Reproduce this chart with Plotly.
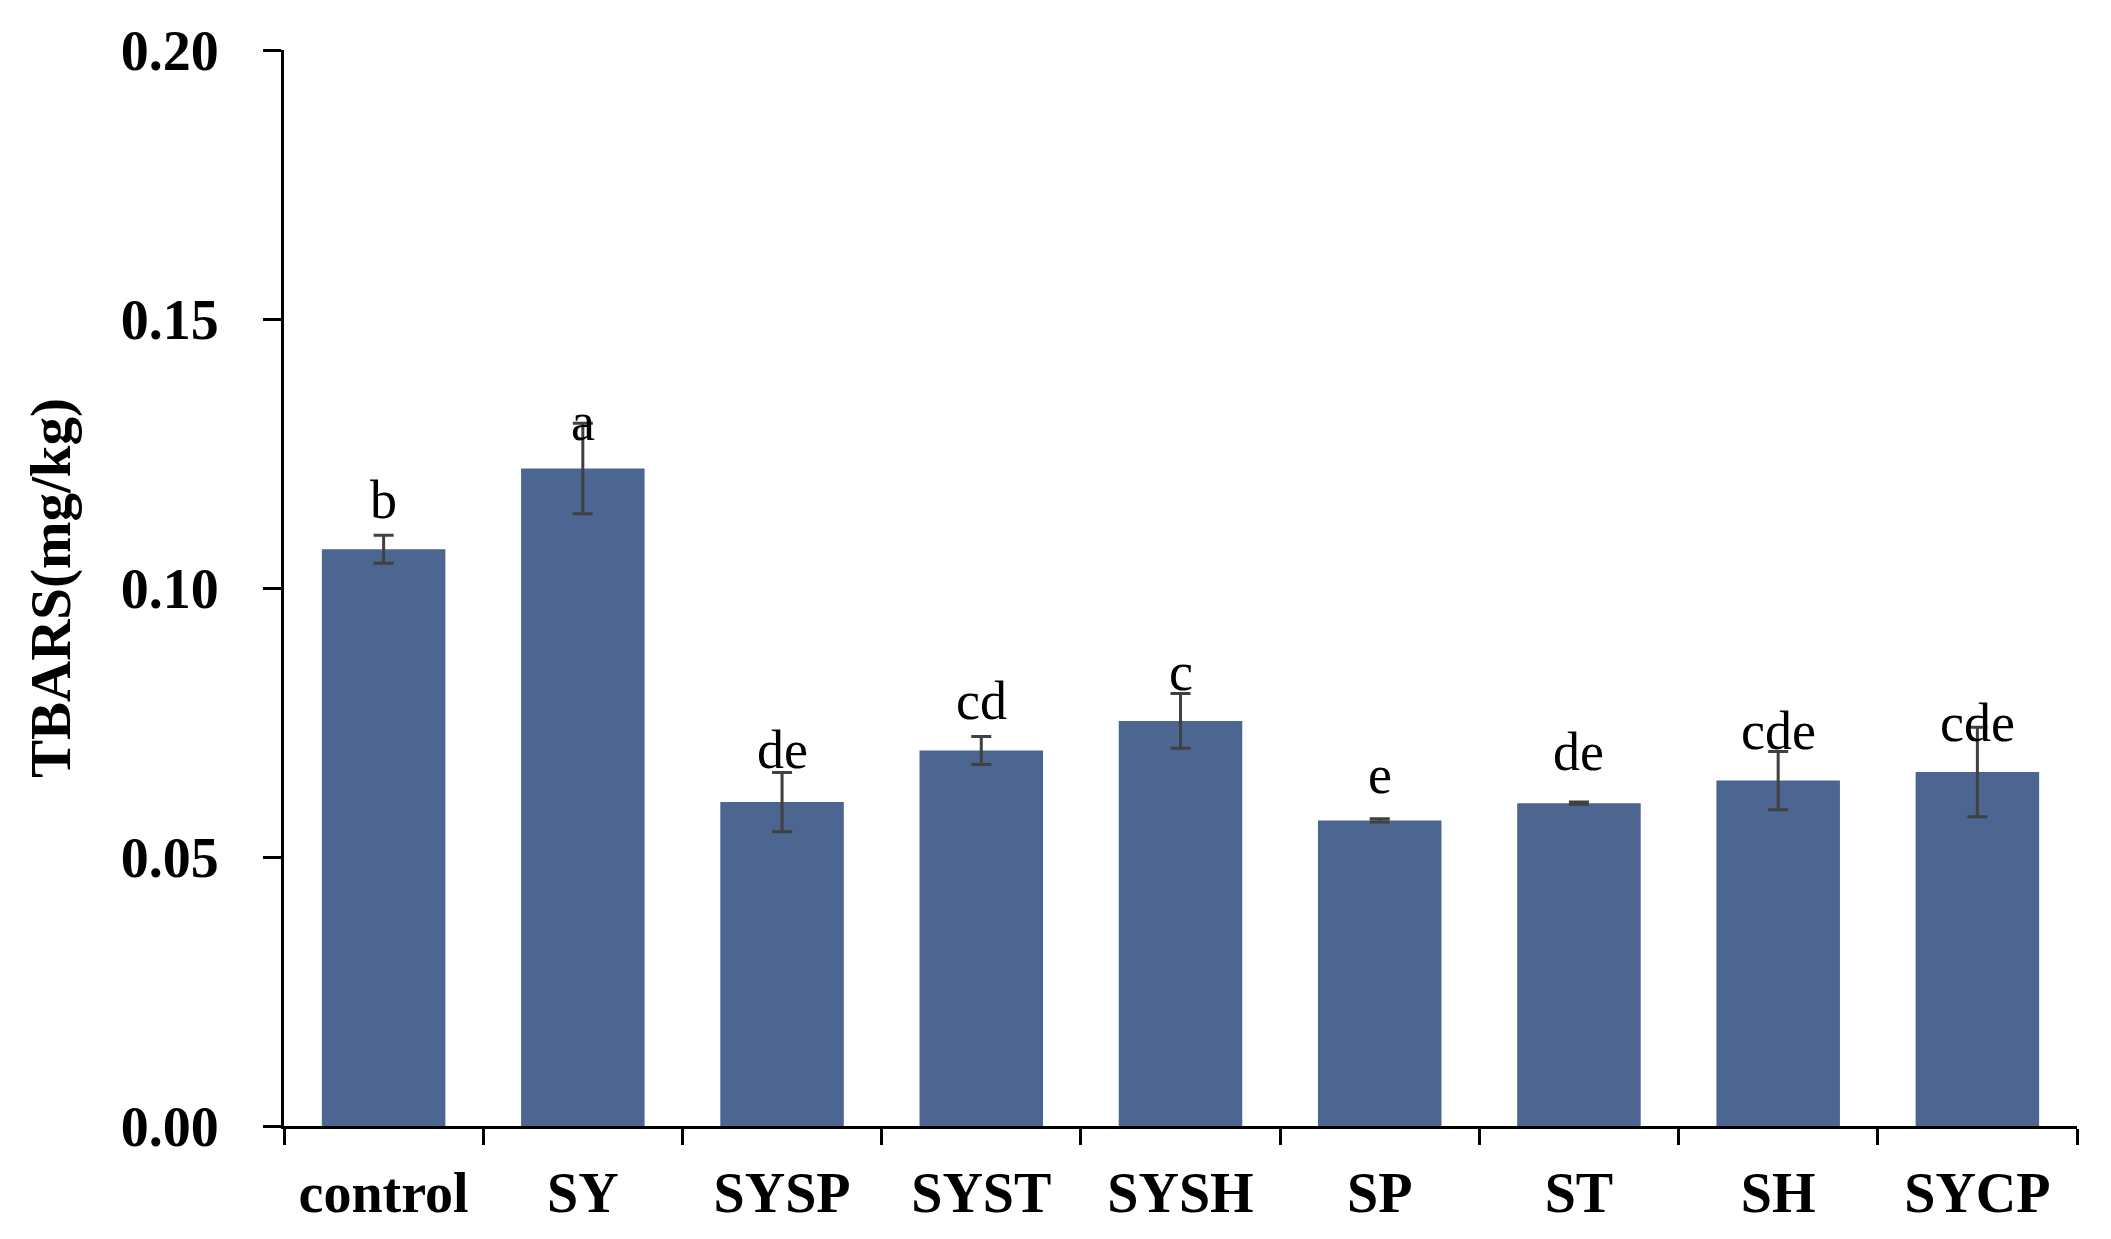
import plotly.graph_objects as go

categories = ["control", "SY", "SYSP", "SYST", "SYSH", "SP", "ST", "SH", "SYCP"]
tbars = [0.1072, 0.1222, 0.0602, 0.0698, 0.0753, 0.0568, 0.0600, 0.0642, 0.0658]
errors = [0.0026, 0.0084, 0.0055, 0.0026, 0.0051, 0.0003, 0.0002, 0.0054, 0.0083]
letters = ["b", "a", "de", "cd", "c", "e", "de", "cde", "cde"]
letter_y = [0.1163, 0.1308, 0.0698, 0.0790, 0.0843, 0.0653, 0.0695, 0.0735, 0.0750]
y_ticks = [0.00, 0.05, 0.10, 0.15, 0.20]

FONT = "Liberation Serif"

fig = go.Figure()
fig.add_trace(go.Bar(
    x=categories, y=tbars,
    marker=dict(color="#4D6591", line=dict(width=0)),
    error_y=dict(type="data", array=errors, visible=True, color="#404040",
                 thickness=3, width=10),
    showlegend=False,
))

for c, t, yv in zip(categories, letters, letter_y):
    fig.add_annotation(x=c, y=yv, text=t, showarrow=False,
                       font=dict(family=FONT, size=54, color="black"),
                       xanchor="center", yanchor="middle")

fig.update_layout(
    width=2111, height=1239,
    margin=dict(l=276, r=42, t=36, b=121),
    paper_bgcolor="white", plot_bgcolor="white",
    bargap=0.38,
    font=dict(family=FONT, color="black"),
)
fig.update_yaxes(
    range=[0, 0.2], tickvals=y_ticks, ticktext=[f"{v:.2f}" for v in y_ticks],
    showgrid=False, zeroline=False,
    showline=True, linecolor="black", linewidth=3,
    ticks="outside", ticklen=18, tickwidth=3, tickcolor="black",
    tickfont=dict(family=FONT, size=56, color="black", weight="bold"),
    ticklabelstandoff=33,
    title=dict(text="<b>TBARS(mg/kg)</b>", font=dict(family=FONT, size=57, color="black"),
               standoff=32),
)
fig.update_xaxes(
    showgrid=False, zeroline=False,
    showline=True, linecolor="black", linewidth=3,
    ticks="outside", ticklen=16, tickwidth=3, tickcolor="black",
    tickson="boundaries",
    tickfont=dict(family=FONT, size=56, color="black", weight="bold"),
    ticklabelstandoff=16,
)

fig.write_html("out.html")
